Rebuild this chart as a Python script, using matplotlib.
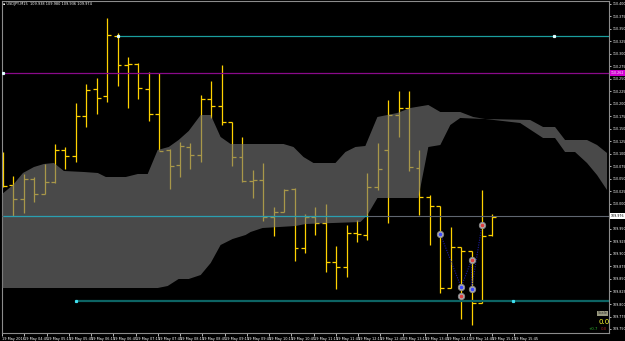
import matplotlib
matplotlib.use("Agg")
import matplotlib.pyplot as plt
import numpy as np

# USDJPY M15 bars, bar -1 is the partly hidden one at the left edge
bar_idx = np.arange(-1, 47)
opens = [110.088, 110.038, 110.010, 110.050, 110.020, 110.044, 110.108, 110.096, 110.176, 110.230,
         110.216, 110.336, 110.278, 110.280, 110.230, 110.180, 110.108, 110.078, 110.114, 110.098,
         110.210, 110.196, 110.164, 110.094, 110.046, 110.048, 109.974, 109.984, 110.030, 109.912,
         109.974, 109.962, 109.884, 109.874, 109.942, 109.938, 110.034, 110.108, 110.178, 110.192,
         110.072, 110.014, 109.996, 109.832, 109.914, 109.906, 109.802, 109.938]
highs = [110.104, 110.056, 110.060, 110.054, 110.080, 110.120, 110.114, 110.202, 110.240, 110.252,
         110.372, 110.342, 110.294, 110.282, 110.264, 110.262, 110.110, 110.124, 110.122, 110.218,
         110.246, 110.278, 110.164, 110.134, 110.068, 110.082, 109.994, 110.030, 110.032, 109.980,
         109.994, 110.000, 109.916, 109.958, 109.968, 110.062, 110.122, 110.208, 110.226, 110.226,
         110.108, 110.018, 109.996, 109.954, 109.914, 109.906, 110.028, 109.980]
lows = [110.034, 109.976, 109.982, 110.004, 110.020, 110.042, 110.070, 110.084, 110.154, 110.180,
        110.204, 110.236, 110.192, 110.210, 110.166, 110.108, 110.030, 110.054, 110.070, 110.084,
        110.172, 110.158, 110.076, 110.044, 110.012, 109.966, 109.936, 109.984, 109.886, 109.902,
        109.938, 109.864, 109.830, 109.854, 109.924, 109.928, 110.028, 109.962, 110.134, 110.066,
        109.978, 109.918, 109.822, 109.832, 109.770, 109.758, 109.802, 109.936]
closes = [110.036, 110.010, 110.050, 110.020, 110.044, 110.108, 110.096, 110.176, 110.228, 110.212,
          110.338, 110.278, 110.280, 110.232, 110.180, 110.106, 110.076, 110.116, 110.098, 110.210,
          110.196, 110.164, 110.094, 110.046, 110.048, 109.974, 109.984, 110.028, 109.912, 109.974,
          109.962, 109.884, 109.874, 109.942, 109.940, 110.034, 110.070, 110.178, 110.192, 110.074,
          110.014, 109.996, 109.832, 109.914, 109.906, 109.802, 109.936, 109.974]

# ichimoku cloud outline (bar position, price)
cloud_top_x = [-1.19, -0.04, 0.92, 1.98, 2.93, 3.89, 4.85, 6.77, 8.11, 8.88, 10.80, 11.95, 12.90,
               13.86, 14.92, 15.87, 16.84, 17.99, 18.95, 19.90, 20.86, 25.94, 26.90, 27.86, 28.82,
               30.93, 31.89, 32.85, 33.80, 34.96, 35.92, 36.87, 38.12, 39.85, 41.00, 42.91, 44.16,
               45.31, 49.63, 50.87, 52.02, 52.98, 55.09, 56.05, 57.01]
cloud_top = [110.018, 110.038, 110.062, 110.074, 110.080, 110.082, 110.066, 110.064, 110.062, 110.054,
             110.054, 110.060, 110.060, 110.108, 110.114, 110.128, 110.146, 110.178, 110.178, 110.134,
             110.120, 110.120, 110.114, 110.094, 110.082, 110.082, 110.104, 110.114, 110.116, 110.174,
             110.178, 110.182, 110.192, 110.198, 110.184, 110.184, 110.174, 110.170, 110.168, 110.154,
             110.154, 110.128, 110.128, 110.118, 110.102]
cloud_bot_x = [-1.19, 13.86, 14.82, 15.87, 16.84, 17.99, 18.95, 19.90, 21.05, 22.30, 22.78, 23.93,
               27.09, 28.05, 33.33, 34.00, 34.96, 38.89, 39.85, 41.00, 41.96, 42.91, 45.31, 48.67,
               50.87, 52.02, 52.98, 53.94, 55.09, 56.05, 57.01]
cloud_bot = [109.832, 109.832, 109.836, 109.850, 109.850, 109.858, 109.882, 109.918, 109.930, 109.938,
             109.944, 109.952, 109.956, 109.960, 109.964, 109.978, 110.012, 110.012, 110.114, 110.118,
             110.158, 110.172, 110.170, 110.162, 110.132, 110.132, 110.104, 110.104, 110.082, 110.058,
             110.028]

# zigzag markers
zz_idx = [41, 43, 44, 44, 45]
zz_price = [109.940, 109.834, 109.888, 109.830, 109.958]
dot_idx = [41, 43, 43, 44, 44, 45]
dot_price = [109.940, 109.834, 109.816, 109.830, 109.888, 109.958]
dot_center = ['#3a48ff', '#3a48ff', '#e04040', '#3a48ff', '#e04040', '#e04040']

# horizontal levels
level_top = 110.336
level_magenta = 110.262
bid = 109.976
level_low = 109.806

price_ticks = np.arange(109.750, 110.401, 0.025)
time_labels = ["19 May 2016", "19 May 04:45", "19 May 05:15", "19 May 05:45", "19 May 06:15",
               "19 May 06:45", "19 May 07:15", "19 May 07:45", "19 May 08:15", "19 May 08:45",
               "19 May 09:15", "19 May 09:45", "19 May 10:15", "19 May 10:45", "19 May 11:15",
               "19 May 11:45", "19 May 12:15", "19 May 12:45", "19 May 13:15", "19 May 13:45",
               "19 May 14:15", "19 May 14:45", "19 May 15:15", "19 May 15:45"]

small_font = ['Liberation Sans Narrow', 'DejaVu Sans']

W, H = 625, 341
fig = plt.figure(figsize=(W / 100, H / 100), dpi=100, facecolor='black')
ax = fig.add_axes([2 / W, 1 - 333 / H, 607 / W, 332 / H])
ax.set_facecolor('black')
ax.set_xlim(-0.997, 57.2)
ax.set_ylim(109.742, 110.406)

bar_col = '#ffd200'
lw = 0.9
ax.vlines(bar_idx, lows, highs, color=bar_col, linewidth=lw, zorder=2)
ax.hlines(opens, bar_idx - 0.38, bar_idx, color=bar_col, linewidth=lw, zorder=2)
ax.hlines(closes, bar_idx, bar_idx + 0.38, color=bar_col, linewidth=lw, zorder=2)

# cloud over the bars, semi transparent so bars look tan inside
poly_x = np.concatenate([cloud_top_x, cloud_bot_x[::-1]])
poly_y = np.concatenate([cloud_top, cloud_bot[::-1]])
ax.fill(poly_x, poly_y, color='#757575', alpha=0.63, linewidth=0, zorder=3)

# level lines
ax.axhline(bid, color='#5f6670', linewidth=0.8, zorder=4)
ax.hlines(bid, -1, 34.1, color='#2a9fb0', linewidth=0.9, zorder=4)
ax.axhline(level_magenta, color='#8a0a8a', linewidth=0.9, zorder=4)
ax.hlines(level_top, 10, 60, color='#1a9e9e', linewidth=0.9, zorder=4)
ax.hlines(level_low, 6, 60, color='#0d6464', linewidth=1.6, zorder=4)
ax.plot([-0.95, 10, 51.9], [level_magenta, level_top, level_top], 's', color='#e0ffff',
        markersize=1.3, zorder=5, linestyle='none')
ax.plot([6, 48], [level_low, level_low], 's', color='#40e0f0', markersize=1.3, zorder=5)

ax.plot(zz_idx, zz_price, linestyle=(0, (1, 1.2)), color='#1c1c9c', linewidth=0.8, zorder=5)
ax.plot(dot_idx, dot_price, 'o', markersize=4.6, markerfacecolor='#b0b0b0',
        markeredgecolor='#8a8a8a', markeredgewidth=0.6, linestyle='none', zorder=6)
for xi, yi, c in zip(dot_idx, dot_price, dot_center):
    ax.plot(xi, yi, 'o', markersize=1.6, color=c, zorder=7)

# axes frame and ticks (MT4 style)
for s in ax.spines.values():
    s.set_color('#8c8c8c')
    s.set_linewidth(0.8)
ax.yaxis.tick_right()
ax.set_yticks(price_ticks)
ax.set_yticklabels(['%.3f' % p for p in price_ticks], family=small_font)
ax.tick_params(axis='y', colors='white', labelsize=2.3, length=1.5, width=0.5, pad=0.8)
label_x = (1 + 22.3 * np.arange(len(time_labels)) - 12.4) / 10.43
ax.set_xticks(label_x)
ax.set_xticklabels(time_labels, ha='left', family=small_font)
ax.tick_params(axis='x', colors='white', labelsize=2.5, length=2, width=0.5, pad=0.8)

# price labels on the axis
ax.text(1.003, level_magenta, '%.3f' % level_magenta, transform=ax.get_yaxis_transform(),
        color='white', fontsize=2.3, va='center', ha='left', zorder=8, family=small_font,
        bbox=dict(boxstyle='square,pad=0.2', facecolor='#d000d0', edgecolor='none'))
ax.text(1.003, bid, '%.3f' % bid, transform=ax.get_yaxis_transform(),
        color='black', fontsize=2.3, va='center', ha='left', zorder=8, family=small_font,
        bbox=dict(boxstyle='square,pad=0.2', facecolor='white', edgecolor='none'))

fig.text(3 / W, 1 - 4 / H, '\u25aa USDJPY,M15  %.3f %.3f %.3f %.3f' % (opens[-1], highs[-1], lows[-1], closes[-1]),
         color='white', fontsize=2.5, va='center', ha='left', family=small_font)

# indicator panel bottom right
fig.text(602.5 / W, 1 - 313.5 / H, 'Scale', color='#303030', fontsize=2.6, va='center', ha='center',
         family=small_font, bbox=dict(boxstyle='square,pad=0.2', facecolor='#9a9a80', edgecolor='none'))
fig.text(604 / W, 1 - 322 / H, '0.0', color='#ffff30', fontsize=5, va='center', ha='center')
fig.text(593 / W, 1 - 329.5 / H, '+0.7', color='#30b030', fontsize=2.8, va='center', ha='center',
         family=small_font)
fig.text(604 / W, 1 - 329.5 / H, '0.0', color='#a02020', fontsize=2.8, va='center', ha='center',
         family=small_font)

fig.savefig('out.png', dpi=100, facecolor='black')
plt.close(fig)
